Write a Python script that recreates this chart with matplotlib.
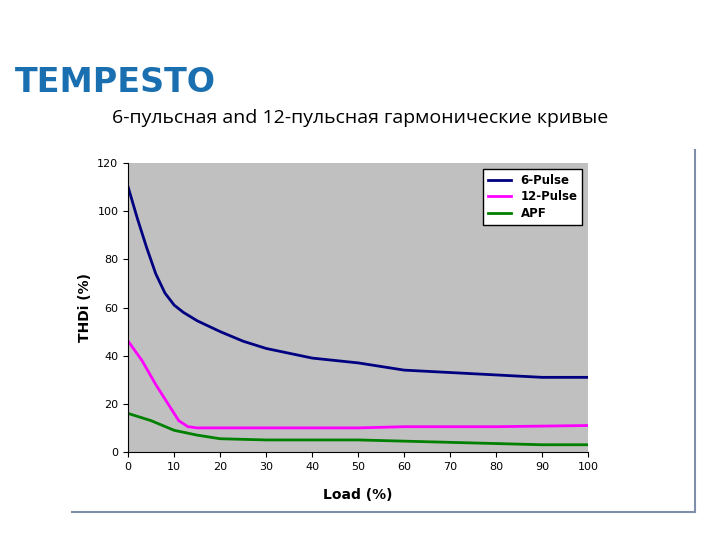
import matplotlib
matplotlib.use("Agg")
import matplotlib.pyplot as plt
from matplotlib.lines import Line2D

load6 = [0, 2, 4, 6, 8, 10, 12, 15, 20, 25, 30, 40, 50, 60, 70, 80, 90, 100]
thd6 = [110, 97, 85, 74, 66, 61, 58, 54.5, 50, 46, 43, 39, 37, 34, 33, 32, 31, 31]
load12 = [0, 3, 6, 9, 11, 13, 15, 20, 30, 50, 60, 80, 100]
thd12 = [46, 38, 28, 19, 13, 10.5, 10, 10, 10, 10, 10.5, 10.5, 11]
loadapf = [0, 5, 10, 15, 20, 30, 50, 60, 70, 80, 90, 100]
thdapf = [16, 13, 9, 7, 5.5, 5, 5, 4.5, 4, 3.5, 3, 3]

fig = plt.figure(figsize=(7.2, 5.4), dpi=100)
fig.patch.set_facecolor("white")

fig.text(0.02, 0.83, "TEMPESTO", fontsize=24, fontweight="bold", color="#1a6fb0", family="DejaVu Sans")
fig.text(0.5, 0.772, "6-пульсная and 12-пульсная гармонические кривые", ha="center", fontsize=14, family="Open Sans")

fig.add_artist(Line2D([0.1, 0.965], [0.052, 0.052], color="#7f8faa", lw=1.5))
fig.add_artist(Line2D([0.965, 0.965], [0.052, 0.722], color="#7f8faa", lw=1.5))

ax = fig.add_axes([0.178, 0.163, 0.639, 0.535])
ax.set_facecolor("#c0c0c0")
ax.plot(load6, thd6, color="#000080", lw=2, label="6-Pulse")
ax.plot(load12, thd12, color="#ff00ff", lw=2, label="12-Pulse")
ax.plot(loadapf, thdapf, color="#008000", lw=2, label="APF")
ax.set_xlim(0, 100)
ax.set_ylim(0, 120)
ax.set_xticks(range(0, 101, 10))
ax.set_yticks(range(0, 121, 20))
ax.tick_params(labelsize=8)
for s in ["top", "right"]:
    ax.spines[s].set_visible(False)
ax.set_xlabel("Load (%)", fontsize=10, fontweight="bold", labelpad=12)
ax.set_ylabel("THDi (%)", fontsize=10, fontweight="bold")
leg = ax.legend(loc="upper right", frameon=True, fancybox=False, handlelength=2.0,
                borderaxespad=0.5, labelspacing=0.3, framealpha=1,
                prop={"weight": "bold", "size": 8.5})
leg.get_frame().set_edgecolor("black")
leg.get_frame().set_facecolor("white")
fig.savefig("out.png", dpi=100)
